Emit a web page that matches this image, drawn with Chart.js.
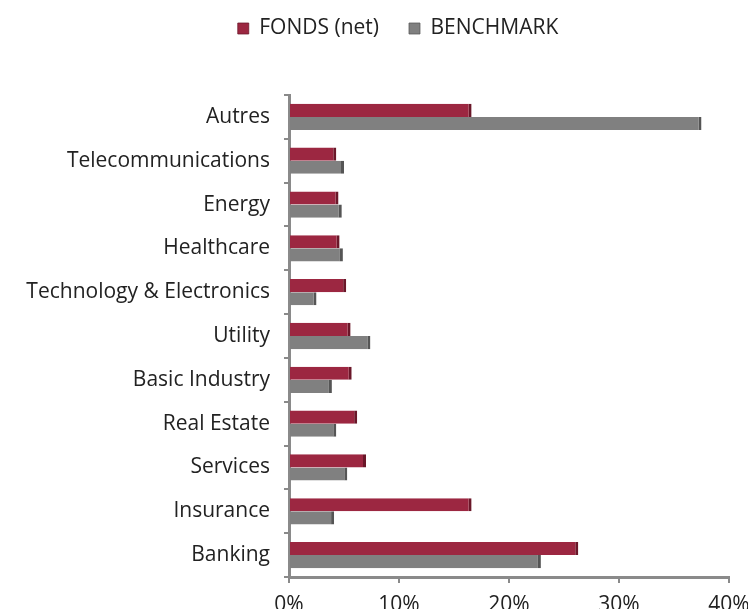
<!DOCTYPE html>
<html>
<head>
<meta charset="utf-8">
<script src="https://cdn.jsdelivr.net/npm/chart.js@4"></script>
<style>
  html, body { margin: 0; padding: 0; background: #fff; overflow: hidden; }
  #wrap { width: 748px; height: 609px; }
</style>
</head>
<body>
<div id="wrap"><canvas id="sector-chart"></canvas></div>
<script>

/* BAR: SECTOR ALLOCATION FONDS vs BENCHMARK */

const labelarray_sector = ['Autres', 'Telecommunications', 'Energy', 'Healthcare', 'Technology & Electronics',
    'Utility', 'Basic Industry', 'Real Estate', 'Services', 'Insurance', 'Banking'];
const datapointarray_fonds = [16.6, 4.3, 4.5, 4.6, 5.2, 5.6, 5.7, 6.2, 7.0, 16.6, 26.3];
const datapointarray_bench = [37.5, 5.0, 4.8, 4.9, 2.5, 7.4, 3.9, 4.3, 5.3, 4.1, 22.9];
const xtick_values = [0, 10, 20, 30, 40];

const fontFam = "'Open Sans', sans-serif";
const axisGrey = '#8a8a8a';

// push the plot area down below the legend, and nudge legend to the right
const legendMargin = {
    id: 'legendMargin',
    beforeInit(chart) {
        const origFit = chart.legend.fit;
        chart.legend.fit = function() {
            origFit.bind(chart.legend)();
            this.height = 107;
        };
    },
    afterLayout(chart) {
        chart.legend.left += 24;
        chart.legend.right += 24;
    }
};

const ctx_sector = document.getElementById('sector-chart').getContext('2d');
const chart_sector = new Chart(ctx_sector, {
    type: 'bar',
    data: {
        labels: labelarray_sector,
        datasets: [{
            label: 'FONDS (net)',
            data: datapointarray_fonds,
            backgroundColor: '#9c2741',
            borderColor: '#6a1729',
            borderWidth: {top: 0, right: 3, bottom: 0, left: 0},
            categoryPercentage: 0.6,
            barPercentage: 1
        }, {
            label: 'BENCHMARK',
            data: datapointarray_bench,
            backgroundColor: '#808080',
            borderColor: '#555555',
            borderWidth: {top: 0, right: 3, bottom: 0, left: 0},
            categoryPercentage: 0.6,
            barPercentage: 1
        }]
    },
    options: {
        indexAxis: 'y',
        responsive: true,
        maintainAspectRatio: false,
        animation: false,
        layout: {
            padding: {top: -12, left: 0, right: 0, bottom: 0}
        },
        plugins: {
            legend: {
                position: 'top',
                labels: {
                    boxWidth: 11,
                    boxHeight: 11,
                    padding: 30,
                    color: '#222',
                    font: {family: fontFam, size: 21}
                }
            },
            tooltip: {enabled: false}
        },
        scales: {
            x: {
                min: 0,
                max: 40,
                afterFit: (scale) => {
                    scale.height = 32;
                    scale.paddingRight = 19;
                },
                afterBuildTicks: (scale) => {
                    scale.ticks = xtick_values.map(v => ({value: v}));
                },
                ticks: {
                    callback: (v) => v + '%',
                    color: '#222',
                    padding: 9,
                    font: {family: fontFam, size: 21}
                },
                grid: {
                    display: true,
                    drawOnChartArea: false,
                    drawTicks: true,
                    tickLength: 6,
                    color: axisGrey,
                    lineWidth: 2
                },
                border: {color: axisGrey, width: 3}
            },
            y: {
                afterFit: (scale) => { scale.width = 289; },
                ticks: {
                    color: '#222',
                    padding: 14,
                    font: {family: fontFam, size: 21}
                },
                grid: {
                    display: true,
                    offset: true,
                    drawOnChartArea: false,
                    drawTicks: true,
                    tickLength: 5,
                    color: axisGrey,
                    lineWidth: 2
                },
                border: {color: axisGrey, width: 3}
            }
        }
    },
    plugins: [legendMargin]
});

</script>
</body>
</html>
